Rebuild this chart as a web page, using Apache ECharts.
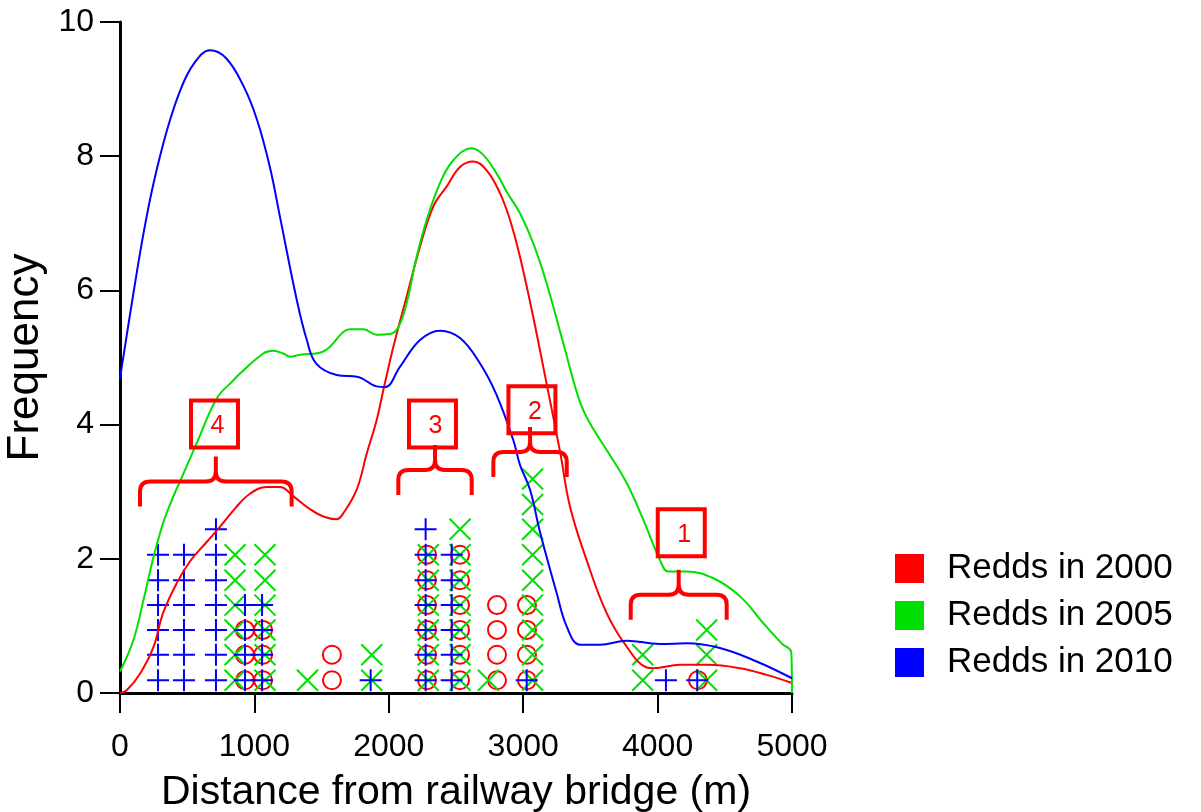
<!DOCTYPE html>
<html>
<head>
<meta charset="utf-8">
<title>Redds</title>
<script src="https://cdn.jsdelivr.net/npm/echarts@6/dist/echarts.min.js"></script>
<style>
  html, body { margin: 0; padding: 0; background: #fff; }
  #chart { width: 1201px; height: 812px; }
</style>
</head>
<body>
<div id="chart"></div>
<script>
  var FONT = '"Liberation Sans", Arial, sans-serif';

  var seriesNames = ['Redds in 2000', 'Redds in 2005', 'Redds in 2010'];
  var seriesColors = ['#ff0000', '#00e000', '#0000ff'];

  // smoothed frequency curves [distance, frequency]
  var curve2000 = [[0,0],[50,0.04],[150,0.29],[250,0.69],[320,1.19],[420,1.63],[520,1.96],[645,2.25],[745,2.48],
    [860,2.76],[967,2.97],[1091,3.07],[1190,3.07],[1290,2.93],[1414,2.74],[1513,2.63],[1612,2.59],[1662,2.68],
    [1761,3.03],[1836,3.57],[1910,4.07],[1960,4.52],[2034,5.16],[2133,5.91],[2232,6.65],[2331,7.25],[2431,7.55],
    [2530,7.84],[2629,7.92],[2728,7.79],[2827,7.45],[2902,7.05],[2976,6.5],[3075,5.6],[3175,4.6],[3274,3.6],
    [3348,2.78],[3472,1.98],[3621,1.19],[3770,0.69],[3919,0.38],[3968,0.37],[4167,0.42],[4365,0.42],[4613,0.37],
    [4812,0.27],[5000,0.15]];
  var curve2005 = [[0,0.32],[100,0.79],[175,1.39],[250,2.03],[320,2.53],[380,2.85],[450,3.17],[570,3.72],[720,4.39],
    [843,4.66],[893,4.76],[1066,5.06],[1141,5.1],[1215,5.06],[1265,5.01],[1340,5.04],[1513,5.09],[1662,5.38],
    [1711,5.42],[1811,5.42],[1910,5.34],[2009,5.35],[2071,5.45],[2133,5.81],[2207,6.5],[2282,7.05],[2381,7.6],
    [2480,7.94],[2617,8.12],[2703,8.02],[2803,7.74],[2877,7.47],[2976,7.15],[3075,6.7],[3175,6.1],[3300,5.2],
    [3420,4.35],[3497,4.02],[3621,3.62],[3770,3.13],[3894,2.58],[4018,1.98],[4080,1.81],[4216,1.81],[4415,1.71],
    [4613,1.44],[4787,1.04],[4923,0.74],[4995,0.6],[5000,0]];
  var curve2010 = [[0,4.69],[100,5.96],[175,6.85],[250,7.6],[350,8.39],[450,8.99],[550,9.38],[670,9.58],[790,9.46],
    [920,9.04],[1020,8.54],[1115,7.84],[1190,7.1],[1315,5.86],[1390,5.26],[1460,4.91],[1612,4.74],[1773,4.71],
    [1910,4.57],[1972,4.56],[2083,4.86],[2232,5.26],[2381,5.4],[2530,5.29],[2679,4.91],[2800,4.45],[2926,3.77],
    [2976,3.4],[3051,3.03],[3125,2.4],[3249,1.49],[3324,0.99],[3423,0.72],[3571,0.72],[3770,0.78],[4018,0.73],
    [4216,0.74],[4464,0.67],[4737,0.47],[5000,0.22]];

  // stacked redd markers: column positions and how many are stacked there
  var stackLevels = [0.19, 0.57, 0.94, 1.31, 1.68, 2.06, 2.44, 2.81, 3.19];
  var redds2000X = [930, 1064, 1577, 2284, 2530, 2805, 3028, 4300];
  var redds2000N = [3, 3, 2, 6, 6, 4, 4, 1];
  var redds2005X = [856, 1079, 1395, 1873, 2294, 2530, 2741, 3070, 3889, 4365];
  var redds2005N = [6, 6, 1, 2, 6, 7, 1, 9, 2, 3];
  var redds2010X = [283, 476, 714, 930, 1057, 1865, 2274, 2468, 3026, 4062, 4295];
  var redds2010N = [6, 6, 7, 4, 4, 1, 7, 6, 1, 1, 1];

  // numbered braces
  var braceStart = [3800, 2778, 2071, 149];
  var braceEnd = [4514, 3324, 2617, 1277];
  var braceBase = [1.09, 3.22, 2.95, 2.78];
  var boxLabels = ['1', '2', '3', '4'];
  var boxX = [4176, 3065, 2325, 703];
  var boxY = [2.39, 4.22, 4.01, 4.01];

  function stack(xs, counts) {
    var pts = [];
    for (var i = 0; i < xs.length; i++) {
      for (var k = 0; k < counts[i]; k++) pts.push([xs[i], stackLevels[k]]);
    }
    return pts;
  }

  var crossPath = 'path://M0,0L20,20M20,0L0,20';
  var plusPath = 'path://M10,0L10,20M0,10L20,10';

  function lineSeries(i, data) {
    return {
      type: 'line', name: seriesNames[i], data: data,
      smooth: 0.4, symbol: 'none', z: 4,
      lineStyle: { color: seriesColors[i], width: 2 }
    };
  }

  function markerSeries(i, data, symbol, size) {
    return {
      type: 'scatter', name: seriesNames[i], data: data,
      symbol: symbol, symbolSize: size, z: 2,
      itemStyle: { color: 'transparent', borderColor: seriesColors[i], borderWidth: 2, opacity: 1 }
    };
  }

  var myChart = echarts.init(document.getElementById('chart'));
  var option = {
    animation: false,
    backgroundColor: '#fff',
    grid: { left: 120, right: 409, top: 22, bottom: 119, outerBoundsMode: 'none', containLabel: false },
    legend: {
      orient: 'vertical', left: 895, top: 551, padding: 0,
      itemWidth: 29, itemHeight: 29, itemGap: 12,
      textStyle: { fontSize: 35, color: '#000', fontFamily: FONT, padding: [0, 0, 0, 18] },
      data: seriesNames.map(function (n, i) {
        return { name: n, icon: 'rect', itemStyle: { color: seriesColors[i], borderWidth: 0, opacity: 1 } };
      })
    },
    xAxis: {
      type: 'value', min: 0, max: 5000, interval: 1000,
      name: 'Distance from railway bridge (m)', nameLocation: 'middle', nameGap: 79,
      nameTextStyle: { fontSize: 41, color: '#000', fontFamily: FONT },
      axisLine: { show: true, onZero: false, lineStyle: { color: '#000', width: 3 } },
      axisTick: { show: true, length: 20, lineStyle: { color: '#000', width: 2 } },
      axisLabel: { fontSize: 32, color: '#000', margin: 38, fontFamily: FONT,
        formatter: function (v) { return String(v); } },
      splitLine: { show: false }
    },
    yAxis: {
      type: 'value', min: 0, max: 10, interval: 2,
      name: 'Frequency', nameLocation: 'middle', nameGap: 58,
      nameTextStyle: { fontSize: 44, color: '#000', fontFamily: FONT },
      axisLine: { show: true, onZero: false, lineStyle: { color: '#000', width: 3 } },
      axisTick: { show: true, length: 20, lineStyle: { color: '#000', width: 2 } },
      axisLabel: { fontSize: 32, color: '#000', margin: 26, fontFamily: FONT },
      splitLine: { show: false }
    },
    series: [
      markerSeries(0, stack(redds2000X, redds2000N), 'circle', 18),
      markerSeries(1, stack(redds2005X, redds2005N), crossPath, 21),
      markerSeries(2, stack(redds2010X, redds2010N), plusPath, 22),
      lineSeries(0, curve2000),
      lineSeries(1, curve2005),
      lineSeries(2, curve2010),
      {
        type: 'custom', coordinateSystem: 'cartesian2d', silent: true, clip: false, z: 6,
        data: braceStart.map(function (x, i) { return [x, braceEnd[i], braceBase[i]]; }),
        encode: { x: [0, 1], y: 2 },
        renderItem: function (params, api) {
          var l = api.coord([api.value(0), api.value(2)]);
          var r = api.coord([api.value(1), api.value(2)]);
          var xl = l[0], xr = r[0], yb = l[1], xm = (xl + xr) / 2, h = 25, c = 10;
          var d = 'M' + xl + ',' + yb + 'L' + xl + ',' + (yb - h + c) +
            'Q' + xl + ',' + (yb - h) + ' ' + (xl + c) + ',' + (yb - h) +
            'L' + (xm - c) + ',' + (yb - h) +
            'Q' + xm + ',' + (yb - h) + ' ' + xm + ',' + (yb - h - c) +
            'L' + xm + ',' + (yb - 2 * h) +
            'M' + xr + ',' + yb + 'L' + xr + ',' + (yb - h + c) +
            'Q' + xr + ',' + (yb - h) + ' ' + (xr - c) + ',' + (yb - h) +
            'L' + (xm + c) + ',' + (yb - h) +
            'Q' + xm + ',' + (yb - h) + ' ' + xm + ',' + (yb - h - c);
          return { type: 'path', shape: { pathData: d }, style: { stroke: '#ff0000', lineWidth: 4, fill: 'none' } };
        }
      },
      {
        type: 'custom', coordinateSystem: 'cartesian2d', silent: true, clip: false, z: 6,
        data: boxX.map(function (x, i) { return [x, boxY[i]]; }),
        renderItem: function (params, api) {
          var p = api.coord([api.value(0), api.value(1)]);
          return {
            type: 'group',
            children: [
              { type: 'rect', shape: { x: p[0] - 23.5, y: p[1] - 23.5, width: 47, height: 47 },
                style: { stroke: '#ff0000', lineWidth: 4, fill: 'none' } },
              { type: 'text', x: p[0] + 3, y: p[1] + 2,
                style: { text: boxLabels[params.dataIndex], fill: '#ff0000', font: '25px ' + FONT,
                  align: 'center', verticalAlign: 'middle' } }
            ]
          };
        }
      }
    ]
  };
  myChart.setOption(option);
</script>
</body>
</html>
